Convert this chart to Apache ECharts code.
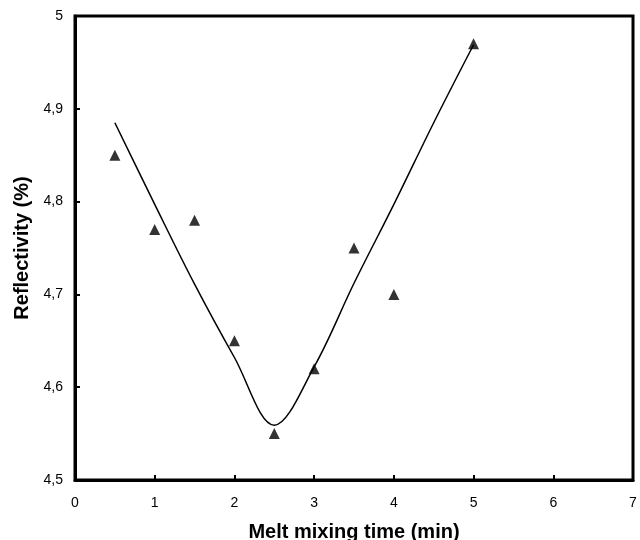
<!DOCTYPE html>
<html>
<head>
<meta charset="utf-8">
<script src="https://cdn.jsdelivr.net/npm/echarts@6/dist/echarts.min.js"></script>
<style>
  html, body { margin: 0; padding: 0; background: #fff; }
  #chart { width: 640px; height: 540px; }
</style>
</head>
<body>
<div id="chart"></div>
<script>
// measured points
const timeX = [0.5, 1, 1.5, 2, 2.5, 3, 3.5, 4, 5]
const reflect = [4.85, 4.77, 4.78, 4.65, 4.55, 4.62, 4.75, 4.70, 4.97]

// fitted curve
const fitX = [0.5, 1, 1.5, 2, 2.5, 3, 3.5, 4, 4.5, 5]
const fitY = [4.885, 4.797, 4.711, 4.632, 4.559, 4.622, 4.712, 4.797, 4.885, 4.969]

const fmt = v => String(Math.round(v * 10) / 10).replace('.', ',')

const chart = echarts.init(document.querySelector('#chart'))
const option = {
    animation: false,
    grid: {
        left: 75, right: 7, top: 16, bottom: 60,
        outerBoundsMode: 'none',
        show: true, borderColor: '#000', borderWidth: 3
    },
    xAxis: {
        type: 'value', min: 0, max: 7, interval: 1,
        name: 'Melt mixing time (min)',
        nameLocation: 'middle', nameGap: 42,
        nameTextStyle: { fontFamily: 'Liberation Sans', fontWeight: 'bold', fontSize: 20, color: '#000' },
        axisLine: { lineStyle: { color: '#000', width: 3 } },
        axisTick: { inside: true, length: 5, lineStyle: { color: '#000', width: 2 } },
        axisLabel: { margin: 16, fontFamily: 'Liberation Sans', fontSize: 14, color: '#000' },
        splitLine: { show: false }
    },
    yAxis: {
        type: 'value', min: 4.5, max: 5, interval: 0.1,
        name: 'Reflectivity (%)',
        nameLocation: 'middle', nameGap: 42, nameRotate: 90,
        nameTextStyle: { fontFamily: 'Liberation Sans', fontWeight: 'bold', fontSize: 20, color: '#000' },
        axisLine: { lineStyle: { color: '#000', width: 3 } },
        axisTick: { inside: true, length: 5, lineStyle: { color: '#000', width: 2 } },
        axisLabel: { margin: 12, fontFamily: 'Liberation Sans', fontSize: 14, color: '#000', formatter: fmt },
        splitLine: { show: false }
    },
    series: [
        {
            type: 'line',
            data: fitX.map((x, i) => [x, fitY[i]]),
            smooth: 0.35,
            showSymbol: false,
            lineStyle: { color: '#000', width: 1.5 }
        },
        {
            type: 'scatter',
            data: timeX.map((x, i) => [x, reflect[i]]),
            symbol: 'triangle',
            symbolSize: 11,
            itemStyle: { color: '#000' }
        }
    ]
}
chart.setOption(option)
</script>
</body>
</html>
